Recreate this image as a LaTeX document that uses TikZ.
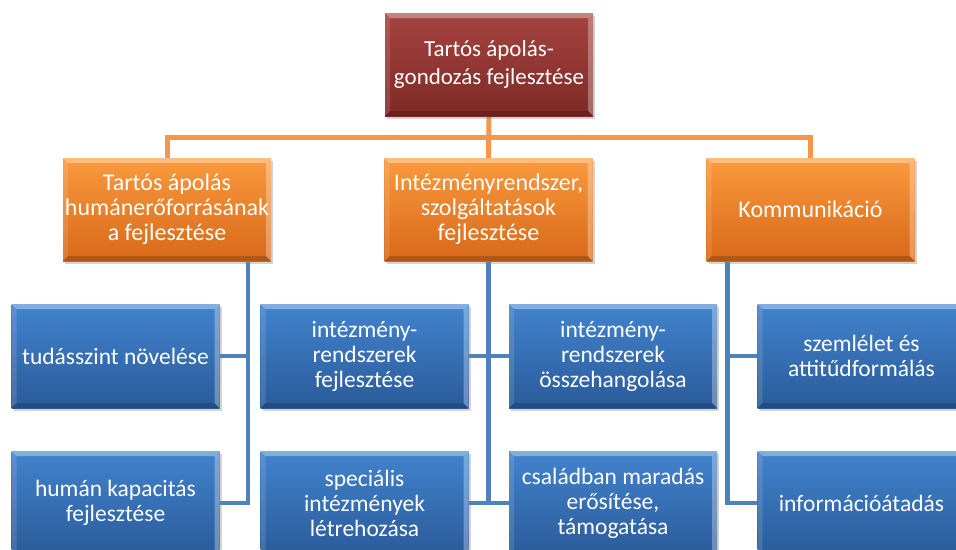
\documentclass[tikz,border=0pt]{standalone}
\usepackage{fontspec}
\setmainfont{Carlito}
\usetikzlibrary{shadows,backgrounds,calc}
\definecolor{redT}{HTML}{A5433F}
\definecolor{redB}{HTML}{7E2A27}
\definecolor{orT}{HTML}{FA9A3E}
\definecolor{orB}{HTML}{D86818}
\definecolor{blT}{HTML}{4283CE}
\definecolor{blB}{HTML}{2A5B99}
\definecolor{oLine}{HTML}{F79646}
\definecolor{bLine}{HTML}{4F81BD}
\tikzset{
  bevel/.style={path picture={
    \fill[white,opacity=0.35] (path picture bounding box.north west) -- (path picture bounding box.north east)
      -- ([xshift=-5pt,yshift=-5pt]path picture bounding box.north east) -- ([xshift=5pt,yshift=-5pt]path picture bounding box.north west) -- cycle;
    \fill[white,opacity=0.12] (path picture bounding box.north west) -- ([xshift=5pt,yshift=-5pt]path picture bounding box.north west)
      -- ([xshift=5pt,yshift=5pt]path picture bounding box.south west) -- (path picture bounding box.south west) -- cycle;
    \fill[white,opacity=0.30] (path picture bounding box.north east) -- ([xshift=-5pt,yshift=-5pt]path picture bounding box.north east)
      -- ([xshift=-5pt,yshift=5pt]path picture bounding box.south east) -- (path picture bounding box.south east) -- cycle;
    \fill[black,opacity=0.18] (path picture bounding box.south west) -- ([xshift=5pt,yshift=5pt]path picture bounding box.south west)
      -- ([xshift=-5pt,yshift=5pt]path picture bounding box.south east) -- (path picture bounding box.south east) -- cycle;
  }},
  box/.style={minimum width=208pt, minimum height=104pt, inner sep=0pt, text=white, align=center,
    font=\fontsize{23.5}{25}\selectfont, bevel,
    drop shadow={opacity=0.35, shadow xshift=2pt, shadow yshift=-3pt}},
  topbox/.style={box, top color=redT, bottom color=redB, minimum height=103pt, font=\fontsize{23}{27.5}\selectfont},
  orbox/.style={box, top color=orT, bottom color=orB, minimum height=103pt, font=\fontsize{24}{25}\selectfont},
  blbox/.style={box, top color=blT, bottom color=blB},
  oline/.style={draw=oLine, line width=5pt},
  bline/.style={draw=bLine, line width=4.5pt},
}
\begin{document}
\begin{tikzpicture}[x=1pt,y=-1pt]
\path[use as bounding box, clip] (0,0) rectangle (956,549);
\node[topbox] (top) at (489,64.5) {Tartós ápolás-\\gondozás fejlesztése};
\node[orbox] (oL) at (167,209.5) {Tartós ápolás\\humánerőforrásának\\a fejlesztése};
\node[orbox] (oM) at (488.5,209.5) {Intézményrendszer,\\szolgáltatások\\fejlesztése};
\node[orbox] (oR) at (810.5,209.5) {Kommunikáció};
\node[blbox] (b11) at (115.5,356) {tudásszint növelése};
\node[blbox] (b12) at (115.5,503) {humán kapacitás\\fejlesztése};
\node[blbox] (b21) at (364.5,356) {intézmény-\\rendszerek\\fejlesztése};
\node[blbox] (b22) at (364.5,503) {speciális\\intézmények\\létrehozása};
\node[blbox] (b31) at (613,356) {intézmény-\\rendszerek\\összehangolása};
\node[blbox] (b32) at (613,503) {családban maradás\\erősítése,\\támogatása};
\node[blbox] (b41) at (861.5,356) {szemlélet és\\attitűdformálás};
\node[blbox] (b42) at (861.5,503) {információátadás};
\begin{scope}[on background layer]
  \coordinate (bus) at (489,137);
  \draw[oline] (top.south) -- (oM.north);
  \draw[oline] (oL.north) -- (oL.north |- bus) -- (oR.north |- bus) -- (oR.north);
  \coordinate (tL) at ([xshift=-23pt]oL.south east);
  \coordinate (tR) at ([xshift=21pt]oR.south west);
  \draw[bline] (tL) |- (b11.east);
  \draw[bline] (tL) |- (b12.east);
  \draw[bline] (oM.south) |- (b21.east);
  \draw[bline] (oM.south) |- (b22.east);
  \draw[bline] (oM.south) |- (b31.west);
  \draw[bline] (oM.south) |- (b32.west);
  \draw[bline] (tR) |- (b41.west);
  \draw[bline] (tR) |- (b42.west);
\end{scope}
\end{tikzpicture}
\end{document}
